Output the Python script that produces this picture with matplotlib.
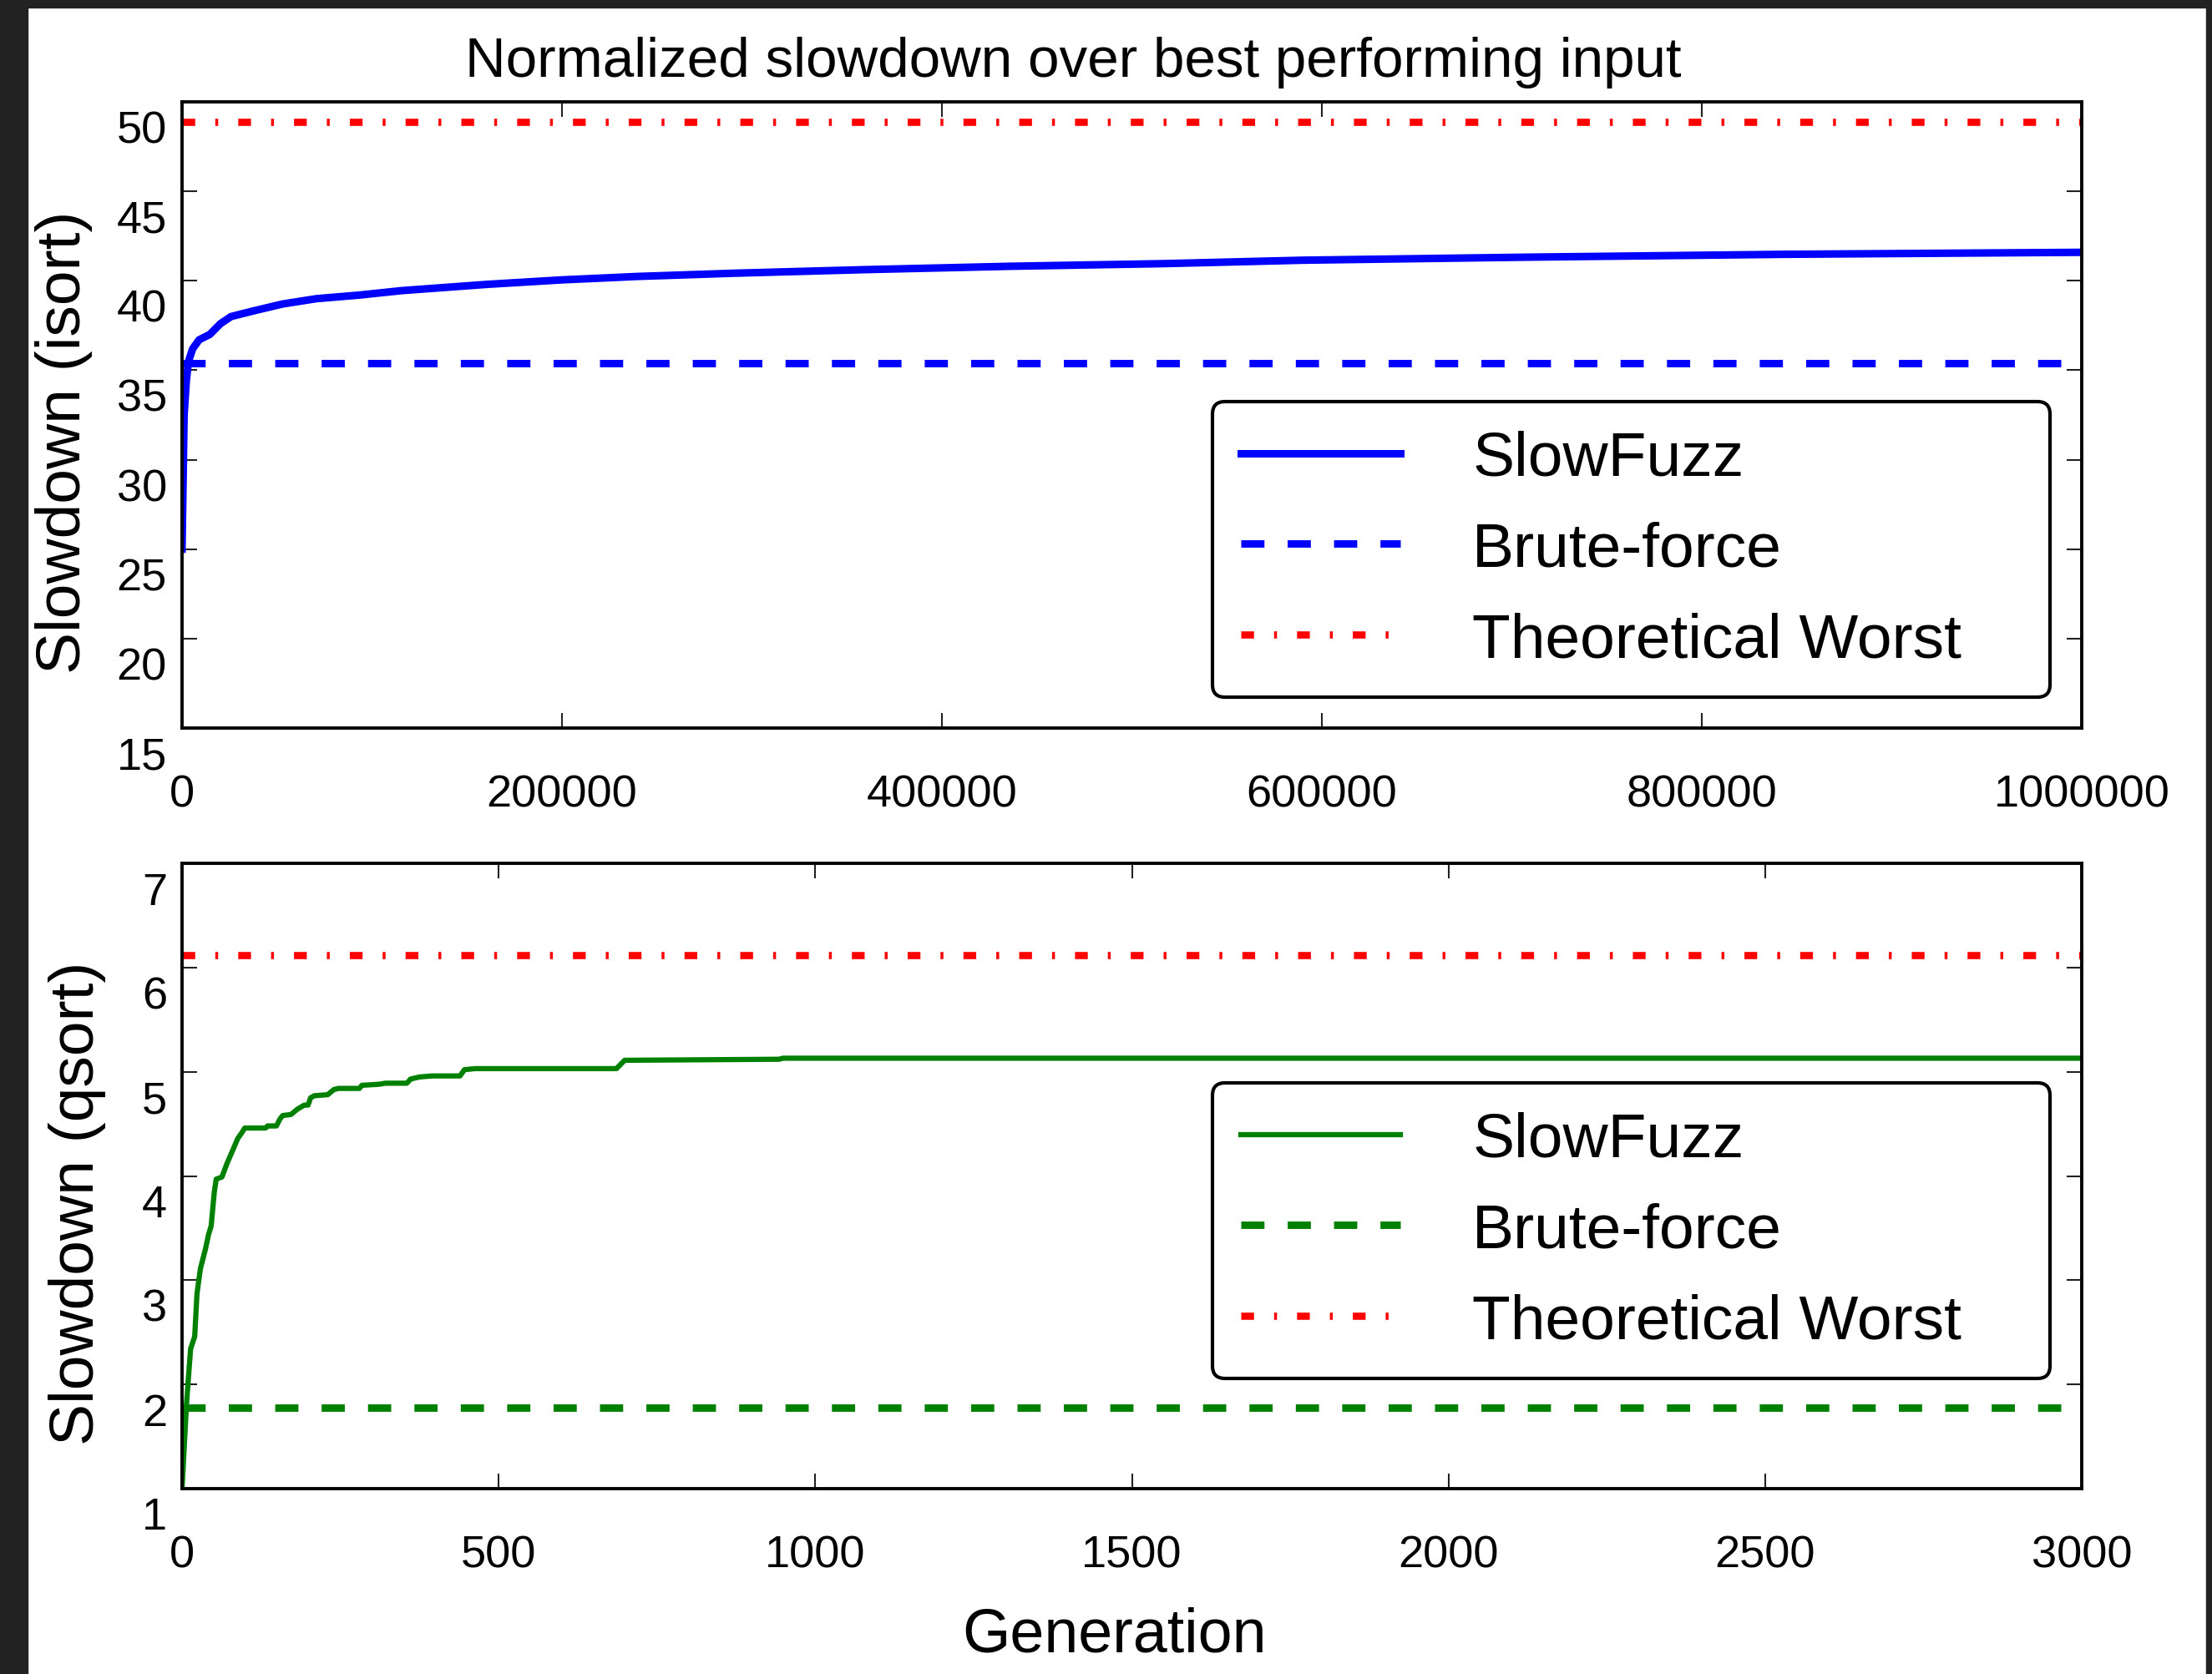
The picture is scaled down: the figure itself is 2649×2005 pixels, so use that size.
import matplotlib
matplotlib.use('Agg')
import matplotlib.pyplot as plt
import matplotlib.transforms as mtransforms
from matplotlib.patches import Rectangle
from matplotlib.ticker import StrMethodFormatter

plt.rcParams['font.family'] = ['Liberation Sans', 'DejaVu Sans']
plt.rcParams['lines.scale_dashes'] = False

# --- data ---
isort_gen = [0, 1100, 2250, 3400, 5600, 9000, 14600, 20200, 25800, 37000,
             52800, 70800, 93300, 115700, 160700, 200000, 239300, 290000,
             358700, 436000, 517800, 590300, 708600, 844800, 1000000]
isort_slowfuzz = [25.0, 32.5, 34.4, 35.5, 36.2, 36.7, 37.0, 37.6, 38.0, 38.3,
                  38.7, 39.0, 39.2, 39.45, 39.8, 40.05, 40.24, 40.42,
                  40.62, 40.81, 40.96, 41.15, 41.32, 41.48, 41.59]
isort_brute = 35.4
isort_worst = 48.9

qsort_gen = [0, 7, 13.5, 20, 23.6, 29, 37, 42, 46, 51,
             54, 63, 71, 81, 88, 95, 99, 132, 135, 149,
             155, 159, 172, 182, 193, 199, 203, 209, 230, 240,
             247, 280, 284, 311, 321, 355, 361, 375, 395, 439,
             446, 463, 686, 699, 943, 949, 3000]
qsort_slowfuzz = [1.0, 1.81, 2.34, 2.46, 2.87, 3.11, 3.30, 3.44, 3.52, 3.85,
                  3.97, 3.99, 4.12, 4.26, 4.36, 4.42, 4.46, 4.46, 4.48, 4.48,
                  4.55, 4.58, 4.59, 4.64, 4.68, 4.68, 4.75, 4.77, 4.78, 4.83,
                  4.84, 4.84, 4.87, 4.88, 4.89, 4.89, 4.93, 4.95, 4.96, 4.96,
                  5.02, 5.03, 5.03, 5.11, 5.12, 5.13, 5.13]
qsort_brute = 1.78
qsort_worst = 6.12

isort_xticks = [0, 200000, 400000, 600000, 800000, 1000000]
isort_yticks = [15, 20, 25, 30, 35, 40, 45, 50]
qsort_xticks = [0, 500, 1000, 1500, 2000, 2500, 3000]
qsort_yticks = [1, 2, 3, 4, 5, 6, 7]
legend_labels = ['SlowFuzz', 'Brute-force', 'Theoretical Worst']

W, H = 2649, 2006
fig = plt.figure(figsize=(W / 100, H / 100), dpi=100)
ax1 = fig.add_axes([218 / W, 1 - 873 / H, 2275 / W, 750 / H])
ax2 = fig.add_axes([218 / W, 1 - 1784 / H, 2275 / W, 749 / H])

DASH = (20, 20)
DASHDOT = (11, 17.3, 2.5, 17.3)


def panel(ax, gen, slow, brute, worst, color, lw, xmax, xticks, yticks, ylabel, leg_y):
    ax.plot(gen, slow, color=color, lw=lw, label=legend_labels[0])
    ax.plot([0, xmax], [brute, brute], color=color, lw=6.4, dashes=DASH,
            label=legend_labels[1])
    ax.plot([0, xmax], [worst, worst], color='red', lw=6.2, dashes=DASHDOT,
            label=legend_labels[2])
    ax.set_xlim(0, xmax)
    ax.set_ylim(yticks[0], yticks[-1])
    ax.set_xticks(xticks)
    ax.set_yticks(yticks)
    ax.xaxis.set_major_formatter(StrMethodFormatter('{x:.0f}'))
    for s in ax.spines.values():
        s.set_linewidth(2.8)
    ax.tick_params(direction='in', length=13, width=1.5, top=True, right=True,
                   labelsize=39, color='#222222')
    ax.tick_params(axis='x', pad=39)
    ax.tick_params(axis='y', pad=13)
    # tick labels sit a bit low in the original
    off = mtransforms.ScaledTranslation(0, -0.29, fig.dpi_scale_trans)
    for t in ax.yaxis.get_major_ticks():
        t.label1.set_transform(t.label1.get_transform() + off)
    ax.set_ylabel(ylabel, fontsize=54)
    ax.yaxis.label.set_va('center')
    leg = ax.legend(loc='lower left', bbox_to_anchor=(0.5424, leg_y, 0.4409, 0.4),
                    mode='expand', borderaxespad=0, fontsize=54,
                    handlelength=2.55, handletextpad=1.15, labelspacing=0.53,
                    borderpad=0.45, fancybox=True, framealpha=1, edgecolor='black')
    leg.get_frame().set_linewidth(3)


panel(ax1, isort_gen, isort_slowfuzz, isort_brute, isort_worst, 'blue', 6.5,
      1000000, isort_xticks, isort_yticks, 'Slowdown (isort)', 0.0493)
panel(ax2, qsort_gen, qsort_slowfuzz, qsort_brute, qsort_worst, 'green', 4.5,
      3000, qsort_xticks, qsort_yticks, 'Slowdown (qsort)', 0.176)

ax1.yaxis.set_label_coords(-0.0624, 0.457)
ax2.yaxis.set_label_coords(-0.055, 0.458)

ax2.set_xlabel('Generation', fontsize=53, va='baseline')
ax2.xaxis.set_label_coords(0.4906, -0.260)

fig.text(1285 / W, 1 - 92 / H, 'Normalized slowdown over best performing input',
         fontsize=48.5, ha='center', va='baseline')

# dark screenshot border
dark = '#222222'
fig.add_artist(Rectangle((0, 0), 33 / W, 1, transform=fig.transFigure, color=dark, zorder=10))
fig.add_artist(Rectangle((0, 1 - 10 / H), 1, 10 / H, transform=fig.transFigure, color=dark, zorder=10))
fig.add_artist(Rectangle((1 - 7 / W, 0), 7 / W, 1, transform=fig.transFigure, color=dark, zorder=10))

fig.savefig('out.png', dpi=100)
